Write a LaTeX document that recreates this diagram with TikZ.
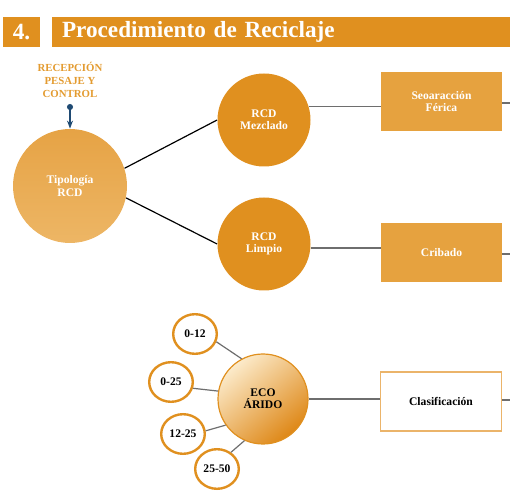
\documentclass[tikz,border=0pt]{standalone}
\usepackage{fontspec}
\setmainfont{Liberation Serif}
\usetikzlibrary{shapes.geometric,arrows.meta}

\definecolor{naranja}{HTML}{E0901F}
\definecolor{cajanaranja}{HTML}{E6A23F}
\definecolor{tipoclaro}{HTML}{E6A345}
\definecolor{tipofondo}{HTML}{EDB665}
\definecolor{ecoclaro}{HTML}{FCEBCB}
\definecolor{ecooscuro}{HTML}{DE8716}
\definecolor{recnaranja}{HTML}{E39B30}
\definecolor{azul}{HTML}{1F4A73}
\definecolor{gris}{HTML}{6E6E6E}
\definecolor{bordeclaro}{HTML}{EBB46A}

\newcommand{\etiq}{\fontsize{5.8}{6.2}\selectfont\bfseries}

\tikzset{
  titulo/.style={rectangle, fill=naranja, text=white, minimum height=15pt, inner sep=0pt,
    font=\fontsize{11.6}{12}\selectfont\bfseries},
  circulo/.style={circle, fill=naranja, text=white, minimum size=46.5pt, inner sep=0pt,
    align=center, font=\etiq},
  caja/.style={rectangle, fill=cajanaranja, text=white, minimum width=60.5pt,
    minimum height=29.5pt, align=center, font=\etiq},
  rango/.style={ellipse, draw=naranja, line width=1.2pt, fill=white, minimum width=21.8pt,
    minimum height=19.8pt, inner sep=0pt, font=\etiq},
  linea/.style={draw=gris, line width=0.6pt}
}

\begin{document}
\begin{tikzpicture}[x=0.5pt,y=-0.5pt]
\useasboundingbox (0,0) rectangle (510,492);

% cabecera
\node[titulo, minimum width=18.5pt] (num) at (21.5,32) {4.};
\node[titulo, text width=219pt, inner xsep=5pt, align=left] (barra) at (281,32) {Procedimiento de Reciclaje};

% entrada
\node[text=recnaranja, align=center, font=\fontsize{5.4}{6.5}\selectfont\bfseries] (recep) at (70,80)
  {RECEPCIÓN\\PESAJE Y\\CONTROL};
\node[circle, top color=tipoclaro, bottom color=tipofondo, minimum size=57pt, inner sep=0pt,
  text=white, align=center, font=\etiq] (tipo) at (70,186) {Tipología\\RCD};
\coordinate (rec) at (70,104);
\draw[azul, line width=0.6pt, {Circle[length=3pt]}-{Stealth[length=4pt]}] (rec) -- (tipo.north);

% ramas
\node[circulo] (mez) at (264,120) {RCD\\Mezclado};
\node[circulo] (lim) at (264,244) {RCD\\Limpio};
\draw[line width=0.6pt] (tipo.18) -- (mez.west);
\draw[line width=0.6pt] (tipo.-12) -- (lim.west);

\node[caja] (sep) at (441.5,101.5) {Seoaracción\\Férica};
\node[caja] (crib) at (441.5,252.5) {Cribado};
\draw[linea] (mez.17) -- (sep.west |- mez.17);
\draw[linea] (lim.-5) -- (crib.west |- lim.-5);
\coordinate (sepfin) at (510,103);
\coordinate (cribfin) at (510,254);
\draw[linea] (sep.east |- sepfin) -- (sepfin);
\draw[linea] (crib.east |- cribfin) -- (cribfin);

% eco arido
\node[circle, draw=naranja, line width=0.6pt, top color=ecoclaro, bottom color=ecooscuro,
  shading angle=40, minimum size=45pt, inner sep=0pt, align=center, font=\etiq] (eco) at (263,399) {ECO\\ÁRIDO};
\node[rango] (r1) at (195,334) {0-12};
\node[rango] (r2) at (171,382) {0-25};
\node[rango] (r3) at (183,434) {12-25};
\node[rango] (r4) at (217,469) {25-50};
\draw[linea] (r1.-20) -- (eco.118);
\draw[linea] (r2.-16) -- (eco.170);
\draw[linea] (r3.8) -- (eco.215);
\draw[linea] (r4.50) -- (eco.246);

\node[caja, fill=white, draw=bordeclaro, line width=0.6pt, text=black] (clas) at (441,401.5) {Clasificación};
\draw[linea] (eco) -- (clas.west |- eco);
\coordinate (clasfin) at (510,400);
\draw[linea] (clas.east |- clasfin) -- (clasfin);

\end{tikzpicture}
\end{document}
